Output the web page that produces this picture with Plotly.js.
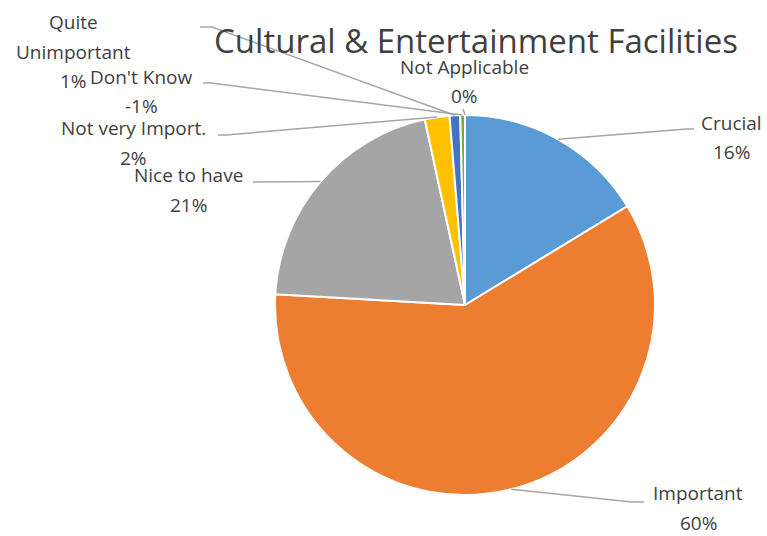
<!DOCTYPE html>
<html>
<head>
<meta charset="utf-8">
<script src="https://cdn.plot.ly/plotly-3.0.1.min.js"></script>
<style>html,body{margin:0;padding:0;background:#fff;}#chart{width:767px;height:536px;}</style>
</head>
<body>
<div id="chart"></div>
<script>
// ---- data ----
const categories = ['Crucial', 'Important', 'Nice to have', 'Not very Import.', 'Quite Unimportant', "Don't Know", 'Not Applicable'];
const sliceValues = [16.3, 59.6, 20.7, 2.1, 0.9, 0.4, 0];
const percentLabels = ['16%', '60%', '21%', '2%', '1%', '-1%', '0%'];
const labelLines = [['Crucial'], ['Important'], ['Nice to have'], ['Not very Import.'], ['Quite', 'Unimportant'], ["Don't Know"], ['Not Applicable']];
const sliceColors = ['#5B9BD5', '#ED7D31', '#A5A5A5', '#FFC000', '#4472C4', '#70AD47', '#264478'];
const chartTitle = 'Cultural & Entertainment Facilities';

// ---- layout helpers (pixels) ----
const W = 767, H = 536;
const cx = 465, cy = 305, R = 190;
// label block: [centerX, firstLineY], leader: [endX, endY, bendX]
const labelPos = [[731, 123], [698, 493], [188, 175], [133, 128], [73, 22], [141, 77], [464, 67]];
const leaderPos = [[694, 129, 687], [644, 502, 632], [253, 182, 262], [218, 135, 226], [200, 27, 212], [203, 83, 211], [463, 109, 463]];
const lineStep = 29.5;

const px = x => x / W;
const py = y => 1 - y / H;

const total = sliceValues.reduce((a, b) => a + Math.abs(b), 0);
let cum = 0;
const annotations = [];
const shapes = [];
categories.forEach((c, i) => {
  const v = Math.abs(sliceValues[i]);
  const mid = (cum + v / 2) / total * 2 * Math.PI;
  cum += v;
  const sx = cx + R * Math.sin(mid), sy = cy - R * Math.cos(mid);
  const lines = labelLines[i].concat([percentLabels[i]]);
  lines.forEach((t, k) => {
    annotations.push({
      text: t, showarrow: false, xref: 'paper', yref: 'paper',
      x: px(labelPos[i][0]), y: py(labelPos[i][1] + k * lineStep),
      xanchor: 'center', yanchor: 'middle',
      font: {family: 'Open Sans', size: 19, color: '#404040'}
    });
  });
  const [ex, ey, bx] = leaderPos[i];
  shapes.push({
    type: 'path', xref: 'paper', yref: 'paper',
    path: `M ${px(ex)} ${py(ey)} L ${px(bx)} ${py(ey)} L ${px(sx)} ${py(sy)}`,
    line: {color: '#A6A6A6', width: 1.5}
  });
});

const trace = {
  type: 'pie',
  labels: categories,
  values: sliceValues.map(Math.abs),
  sort: false,
  direction: 'clockwise',
  rotation: 0,
  textinfo: 'none',
  hoverinfo: 'none',
  marker: {colors: sliceColors, line: {color: '#FFFFFF', width: 2}},
  domain: {x: [px(cx - R), px(cx + R)], y: [py(cy + R), py(cy - R)]},
  showlegend: false
};

const layout = {
  width: W, height: H,
  margin: {l: 0, r: 0, t: 0, b: 0},
  paper_bgcolor: '#FFFFFF',
  showlegend: false,
  title: {
    text: chartTitle, x: px(476), xanchor: 'center', xref: 'paper',
    y: py(41), yanchor: 'middle', yref: 'container',
    font: {family: 'Open Sans', size: 33, color: '#404040'}
  },
  annotations: annotations,
  shapes: shapes
};

Plotly.newPlot('chart', [trace], layout, {displayModeBar: false, staticPlot: true});
</script>
</body>
</html>
